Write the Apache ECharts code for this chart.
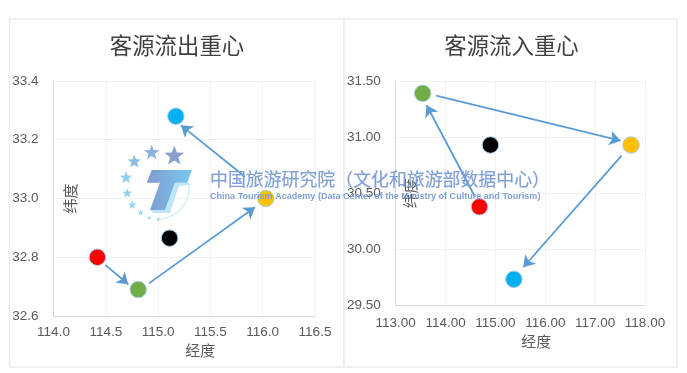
<!DOCTYPE html>
<html><head><meta charset="utf-8">
<style>html,body{margin:0;padding:0;background:#fff}#c{width:687px;height:373px;filter:blur(0.7px)}</style>
<script src="https://cdn.jsdelivr.net/npm/echarts@6/dist/echarts.min.js"></script>
</head><body><div id="c"></div>
<script>
// Panel titles and axis names
const titles = ['客源流出重心', '客源流入重心'];
const xName = '经度', yName = '纬度';
// Point colours shared by both panels
const pointNames = ['red', 'green', 'yellow', 'blue', 'black'];
const pointColors = ['#ff0000', '#70ad47', '#ffc000', '#00b0f0', '#000000'];
// Outflow centre [lon, lat]
const outPoints = [[114.42, 32.80], [114.81, 32.69], [116.03, 33.00], [115.17, 33.28], [115.11, 32.865]];
// Inflow centre [lon, lat]
const inPoints = [[114.68, 30.38], [113.54, 31.39], [117.72, 30.93], [115.37, 29.735], [114.90, 30.93]];
// Arrows (start, end) in data coordinates
const outArrows = [[[114.495, 32.774], [114.715, 32.708]], [[114.913, 32.711], [115.926, 32.970]], [[115.831, 33.074], [115.219, 33.249]]];
const inArrows = [[[114.59, 30.47], [113.62, 31.284]], [[113.81, 31.37], [117.51, 30.969]], [[117.53, 30.835], [115.56, 29.842]]];

const labelColor = '#595959', font = '"Liberation Sans","Noto Sans CJK SC",sans-serif';
const grids = [
  {left: 53.5, top: 81, width: 261.5, height: 235},
  {left: 395.7, top: 81, width: 249.3, height: 224.7}
];
function xAxis(i, min, max, step, digits, pad, lm, gap) {
  return {gridIndex: i, type: 'value', min, max, interval: step, name: xName, nameLocation: 'middle', nameGap: gap,
    nameTextStyle: {color: labelColor, fontSize: 15, fontFamily: font, padding: [0, 0, 0, pad]},
    axisLine: {show: true, onZero: false, lineStyle: {color: '#d9d9d9', width: 1}}, axisTick: {show: false},
    axisLabel: {color: labelColor, fontSize: 13.5, fontFamily: font, margin: lm, showMinLabel: true, showMaxLabel: true, formatter: v => v.toFixed(digits)},
    splitLine: {show: true, lineStyle: {color: '#e6e6e6', width: 1, type: 'dotted'}}};
}
function yAxis(i, min, max, step, digits, gap) {
  return {gridIndex: i, type: 'value', min, max, interval: step, name: yName, nameLocation: 'middle', nameGap: gap, nameRotate: 90, nameMoveOverlap: false,
    nameTextStyle: {color: labelColor, fontSize: 15, fontFamily: font},
    axisLine: {show: true, onZero: false, lineStyle: {color: '#d9d9d9', width: 1}}, axisTick: {show: false},
    axisLabel: {color: labelColor, fontSize: 13.5, fontFamily: font, margin: 15, padding: [3, 0, 0, 0], showMinLabel: true, showMaxLabel: true, formatter: v => v.toFixed(digits)},
    splitLine: {show: true, lineStyle: {color: '#e6e6e6', width: 1, type: 'dotted'}}};
}
function arrowSeries(i, arrows) {
  return {type: 'lines', coordinateSystem: 'cartesian2d', xAxisIndex: i, yAxisIndex: i, z: 3, silent: true,
    symbol: ['none', 'arrow'], symbolSize: 11,
    lineStyle: {color: '#5b9bd5', width: 1.8, opacity: 1, curveness: 0},
    data: arrows.map(a => ({coords: a}))};
}
function pointSeries(i, pts) {
  return pts.map((p, k) => ({type: 'scatter', name: pointNames[k], xAxisIndex: i, yAxisIndex: i, z: 4, symbolSize: 16.5,
    itemStyle: {color: pointColors[k], opacity: 1, borderColor: '#a9cde8', borderWidth: 1}, data: [p]}));
}
function star(cx, cy, r, fill) {
  const pts = [];
  for (let i = 0; i < 10; i++) {
    const a = -Math.PI / 2 + i * Math.PI / 5, q = i % 2 ? r * 0.42 : r;
    pts.push([cx + q * Math.cos(a), cy + q * Math.sin(a)]);
  }
  return {type: 'polygon', z: 10, silent: true, shape: {points: pts}, style: {fill}};
}
const logo = [
  star(174.3, 156, 10.5, '#8ba0cf'), star(151.7, 152.7, 8, '#8fb0da'), star(134.3, 161.7, 7, '#8dbbe2'),
  star(126, 177.7, 6.5, '#90cdee'), star(127.3, 193.3, 5, '#90d2f0'), star(132.3, 205, 4.5, '#95d6f2'),
  star(140.7, 212.7, 3.2, '#95d6f2'), star(149.3, 217.7, 2.2, '#95d6f2'), star(158.3, 219.3, 2, '#7fcdee'),
  {type: 'arc', z: 10, silent: true, shape: {cx: 158, cy: 188, r: 31, startAngle: -0.1, endAngle: 1.5},
   style: {stroke: '#cdebf8', lineWidth: 1.2, fill: null}},
  {type: 'polygon', z: 10, silent: true, shape: {points: [[189, 183], [190.5, 185], [179, 186], [170, 213], [153, 213], [151, 210], [165, 210], [175, 182.7]]},
   style: {fill: '#bfe6f7'}},
  {type: 'polygon', z: 11, silent: true, shape: {points: [[151.7, 170], [192, 170], [187.3, 182.7], [175, 182.7], [165, 210], [150, 210], [160, 182.7], [146.7, 182.7]]},
   style: {fill: {type: 'linear', x: 0, y: 0, x2: 1, y2: 0, colorStops: [{offset: 0, color: '#7f9bd0'}, {offset: 1, color: '#79c8ef'}]}}}
];
const watermark = [
  {type: 'text', z: 12, silent: true, x: 210, y: 179, style: {text: '中国旅游研究院（文化和旅游部数据中心）', fill: '#7f9fd6', stroke: '#7f9fd6', lineWidth: 0.2, fontSize: 17.9, fontFamily: '"Noto Sans CJK SC",sans-serif', verticalAlign: 'middle', align: 'left'}},
  {type: 'text', z: 12, silent: true, x: 210, y: 197, style: {text: 'China Tourism Academy (Data Center of the Ministry of Culture and Tourism)', fill: '#7f9fd6', fontSize: 9.05, fontWeight: 'bold', fontFamily: '"Liberation Sans",sans-serif', verticalAlign: 'middle', align: 'left'}}
];
const panels = [[9.5, 19, 334.5, 348], [344, 19, 333, 348]].map(r => ({type: 'rect', z: 0, silent: true,
  shape: {x: r[0], y: r[1], width: r[2], height: r[3]}, style: {fill: '#fff', stroke: '#ebebeb', lineWidth: 1.5}}));
const chart = echarts.init(document.getElementById('c'), null, {renderer: 'canvas'});
chart.setOption({
  animation: false, backgroundColor: '#fff',
  title: [
    {text: titles[0], left: 172, top: 43, textAlign: 'center', textVerticalAlign: 'middle', textStyle: {fontSize: 22.4, fontWeight: 'normal', color: '#404040', fontFamily: font}},
    {text: titles[1], left: 506.5, top: 43, textAlign: 'center', textVerticalAlign: 'middle', textStyle: {fontSize: 22.4, fontWeight: 'normal', color: '#404040', fontFamily: font}}
  ],
  grid: grids,
  xAxis: [xAxis(0, 114, 116.5, 0.5, 1, 32, 10, 24), xAxis(1, 113, 118, 1, 2, 32, 11, 28)],
  yAxis: [yAxis(0, 32.6, 33.4, 0.2, 1, -26), yAxis(1, 29.5, 31.5, 0.5, 2, -24)],
  series: [arrowSeries(0, outArrows), arrowSeries(1, inArrows), ...pointSeries(0, outPoints), ...pointSeries(1, inPoints)],
  graphic: {elements: [...panels, ...logo, ...watermark]}
});
</script></body></html>
